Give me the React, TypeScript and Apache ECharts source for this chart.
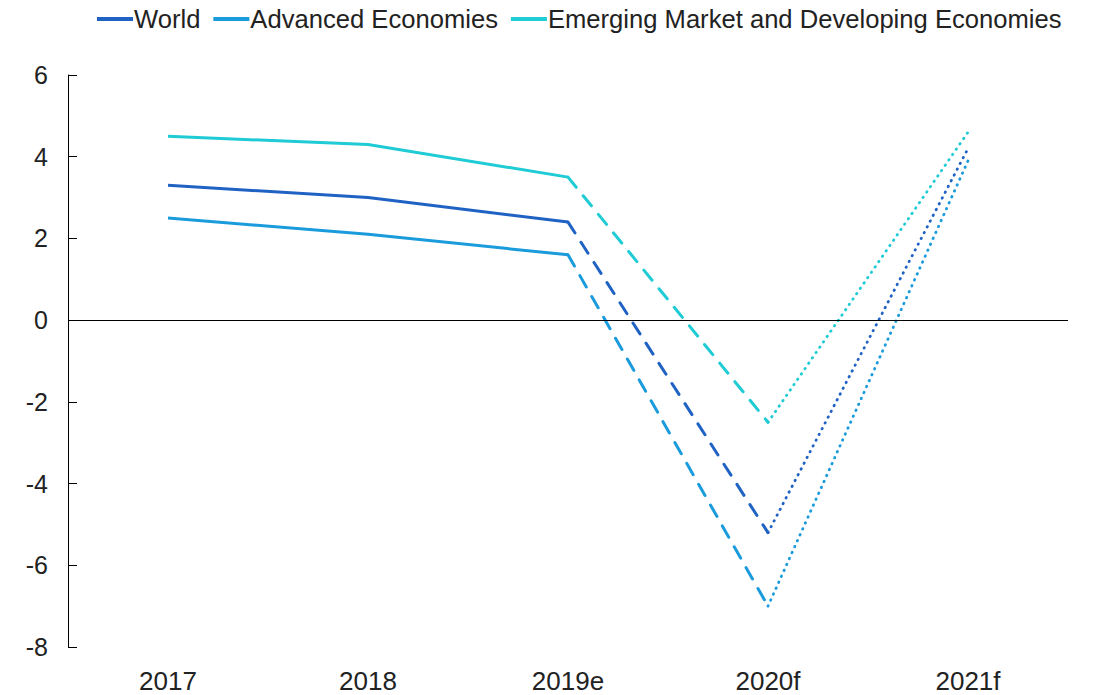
import React, { useEffect, useRef } from "react";
import * as echarts from "echarts";

const categories = ["2017", "2018", "2019e", "2020f", "2021f"];
const world = [3.3, 3.0, 2.4, -5.2, 4.2];
const advanced = [2.5, 2.1, 1.6, -7.0, 3.9];
const emde = [4.5, 4.3, 3.5, -2.5, 4.6];
const yTicks = { min: -8, max: 6, interval: 2 };

const groups = [
  { name: "World", color: "#1f62c4", values: world },
  { name: "Advanced Economies", color: "#1a9bdc", values: advanced },
  { name: "Emerging Market and Developing Economies", color: "#1fcbd4", values: emde },
];

function segment(values: number[], from: number, to: number) {
  return values.map((v, i) => (i >= from && i <= to ? v : null));
}

export default function App() {
  const ref = useRef<HTMLDivElement>(null);
  useEffect(() => {
    const chart = echarts.init(ref.current!, undefined, { renderer: "svg" });
    const series: any[] = [];
    groups.forEach((g, gi) => {
      series.push({
        name: g.name,
        type: "line",
        data: segment(g.values, 0, 2),
        symbol: "none",
        lineStyle: { color: g.color, width: 3, type: "solid" },
        itemStyle: { color: g.color },
        z: 3,
        ...(gi === 0
          ? {
              markLine: {
                silent: true,
                symbol: "none",
                label: { show: false },
                lineStyle: { color: "#000", width: 1, type: "solid" },
                data: [{ yAxis: 0 }],
              },
            }
          : {}),
      });
      series.push({
        name: g.name + " (dashed)",
        type: "line",
        data: segment(g.values, 2, 3),
        symbol: "none",
        lineStyle: { color: g.color, width: 3, type: [13, 11], cap: "round" },
        z: 3,
      });
      series.push({
        name: g.name + " (dotted)",
        type: "line",
        data: segment(g.values, 3, 4),
        symbol: "none",
        lineStyle: { color: g.color, width: 2.8, type: [0.5, 6], cap: "round" },
        z: 3,
      });
    });

    chart.setOption({
      animation: false,
      textStyle: { fontFamily: "Liberation Sans, Arial, sans-serif" },
      legend: {
        data: groups.map((g) => ({ name: g.name, icon: "rect" })),
        left: 92,
        top: 1,
        itemWidth: 36,
        itemHeight: 4,
        itemGap: 13,
        textStyle: { fontSize: 25.6, color: "#222", padding: [0, 0, 0, -4] },
      },
      grid: { left: 68, right: 26, top: 75, bottom: 48, containLabel: false },
      xAxis: {
        type: "category",
        data: categories,
        boundaryGap: true,
        axisLine: { show: false },
        axisTick: { show: false },
        axisLabel: { fontSize: 26, color: "#222", margin: 21 },
        splitLine: { show: false },
      },
      yAxis: {
        type: "value",
        min: yTicks.min,
        max: yTicks.max,
        interval: yTicks.interval,
        axisLine: { show: true, lineStyle: { color: "#000", width: 1 } },
        axisTick: { show: true, inside: true, length: 9, lineStyle: { color: "#000" } },
        axisLabel: { fontSize: 25, color: "#222", margin: 20 },
        splitLine: { show: false },
      },
      series,
    });
    return () => chart.dispose();
  }, []);
  return (
    <div
      ref={ref}
      style={{ position: "absolute", left: 0, top: 0, width: 1094, height: 695, background: "#fff" }}
    />
  );
}
